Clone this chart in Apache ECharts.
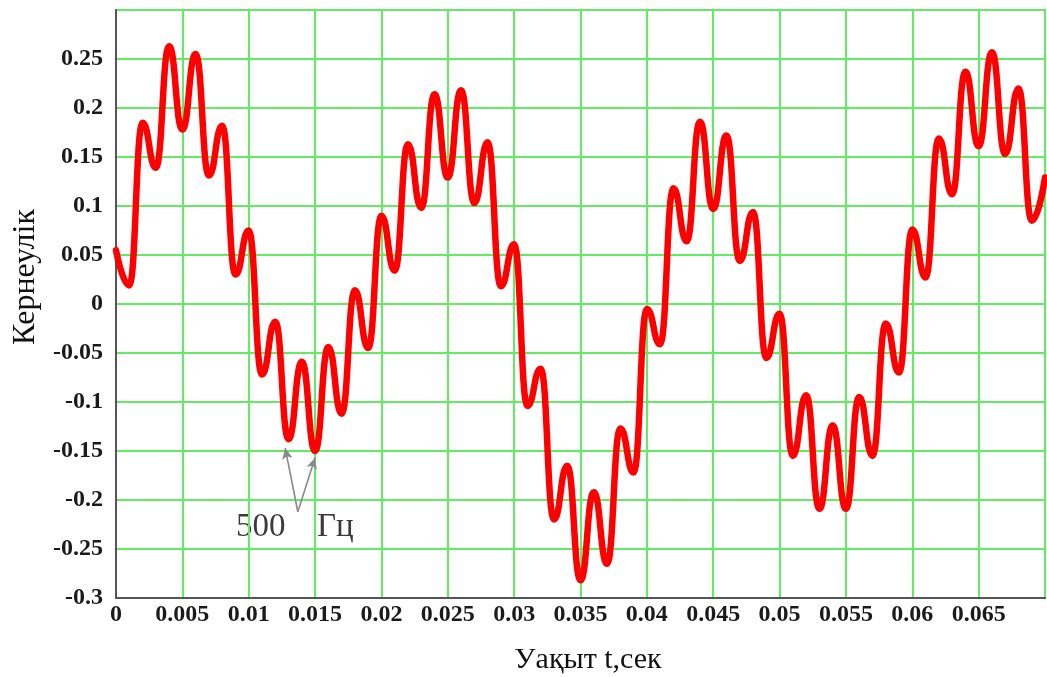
<!DOCTYPE html>
<html>
  <head>
    <meta charset="utf-8">
    <title></title>
    <style media="screen">
    html, body {margin:0; padding:0; background:#fff;}
    .box {width:1047px; height:677px;}
    </style>
    <script src="https://cdn.jsdelivr.net/npm/echarts@6/dist/echarts.min.js" charset="utf-8"></script>
    <script>
    // time, s (one reading per 1 ms: peaks and dips of the 500 Hz ripple)
    const times=[
      0, 0.001, 0.002, 0.003, 0.004, 0.005, 0.006, 0.007, 0.008, 0.009,
      0.010, 0.011, 0.012, 0.013, 0.014, 0.015, 0.016, 0.017, 0.018, 0.019,
      0.020, 0.021, 0.022, 0.023, 0.024, 0.025, 0.026, 0.027, 0.028, 0.029,
      0.030, 0.031, 0.032, 0.033, 0.034, 0.035, 0.036, 0.037, 0.038, 0.039,
      0.040, 0.041, 0.042, 0.043, 0.044, 0.045, 0.046, 0.047, 0.048, 0.049,
      0.050, 0.051, 0.052, 0.053, 0.054, 0.055, 0.056, 0.057, 0.058, 0.059,
      0.060, 0.061, 0.062, 0.063, 0.064, 0.065, 0.066, 0.067, 0.068, 0.069,
      0.070
    ];
    // voltage
    const voltage=[
      0.055, 0.019, 0.185, 0.139, 0.263, 0.178, 0.255, 0.131, 0.182, 0.030,
      0.075, -0.072, -0.018, -0.138, -0.059, -0.150, -0.044, -0.112, 0.014, -0.045,
      0.090, 0.034, 0.163, 0.098, 0.214, 0.129, 0.218, 0.103, 0.165, 0.018,
      0.061, -0.104, -0.066, -0.220, -0.165, -0.282, -0.192, -0.265, -0.127, -0.172,
      -0.005, -0.041, 0.118, 0.064, 0.186, 0.097, 0.172, 0.044, 0.094, -0.055,
      -0.010, -0.155, -0.093, -0.209, -0.124, -0.209, -0.095, -0.155, -0.020, -0.070,
      0.076, 0.027, 0.169, 0.112, 0.237, 0.161, 0.257, 0.153, 0.220, 0.085,
      0.129
    ];
    // axis ranges and tick steps
    const xRange=[0, 0.07];
    const xStep=0.005;
    const yRange=[-0.3, 0.3];
    const yStep=0.05;
    // "500 Гц" pointer: common base and the two arrow tips (data coords)
    const arrowBase=[0.0137, -0.212];
    const arrowTips=[[0.01275, -0.147], [0.0150, -0.157]];

    window.onload=function (){
      let chart=echarts.init(document.querySelector('.box'));

      let green='#62ec62';
      let labelFont={fontFamily: 'Liberation Serif', fontWeight: 'bold', fontSize: 24, color: '#1a1a1a'};

      let option={
        animation: false,
        backgroundColor: '#fff',
        grid: {
          left: 116, right: 2, top: 10, bottom: 79,
          show: true, borderColor: '#9a9a9a', borderWidth: 2
        },
        xAxis: {
          type: 'value',
          min: xRange[0], max: xRange[1], interval: xStep,
          axisLine: {show: true, onZero: false, lineStyle: {color: '#555', width: 2}},
          axisTick: {show: false},
          axisLabel: Object.assign({margin: 5, showMaxLabel: false}, labelFont),
          splitLine: {show: true, lineStyle: {color: green, width: 2}}
        },
        yAxis: {
          type: 'value',
          min: yRange[0], max: yRange[1], interval: yStep,
          axisLine: {show: true, onZero: false, lineStyle: {color: '#555', width: 2}},
          axisTick: {show: false},
          axisLabel: Object.assign({margin: 13, showMaxLabel: false}, labelFont),
          splitLine: {show: true, lineStyle: {color: green, width: 2}}
        },
        series: [
          {
            type: 'line',
            data: times.map((t, i)=>[t, voltage[i]]),
            smooth: 0.5,
            smoothMonotone: 'x',
            showSymbol: false,
            lineStyle: {color: '#ff0000', width: 6.5, cap: 'round', join: 'round'},
            z: 3,
            markLine: {
              silent: true,
              symbol: ['none', 'arrow'],
              symbolSize: [8, 11],
              label: {show: false},
              lineStyle: {color: '#8a8a8a', width: 1.6, type: 'solid'},
              data: arrowTips.map(tip=>[{coord: arrowBase}, {coord: tip}])
            }
          }
        ],
        graphic: [
          {
            type: 'text', x: 26, y: 277, rotation: Math.PI/2,
            style: {text: 'Кернеулік', fill: '#111', font: '32px "Liberation Serif"', textAlign: 'center', textVerticalAlign: 'middle'}
          },
          {
            type: 'text', x: 588, y: 660,
            style: {text: 'Уақыт t,сек', fill: '#111', font: '30px "Liberation Serif"', textAlign: 'center', textVerticalAlign: 'middle'}
          },
          {
            type: 'text', x: 236, y: 527,
            style: {text: '500', fill: '#3a3a3a', font: '33px "Liberation Serif"', textAlign: 'left', textVerticalAlign: 'middle'}
          },
          {
            type: 'text', x: 317, y: 527,
            style: {text: 'Гц', fill: '#3a3a3a', font: '33px "Liberation Serif"', textAlign: 'left', textVerticalAlign: 'middle'}
          }
        ]
      };

      chart.setOption(option);
    };
    </script>
  </head>
  <body>
    <div class="box"></div>
  </body>
</html>
